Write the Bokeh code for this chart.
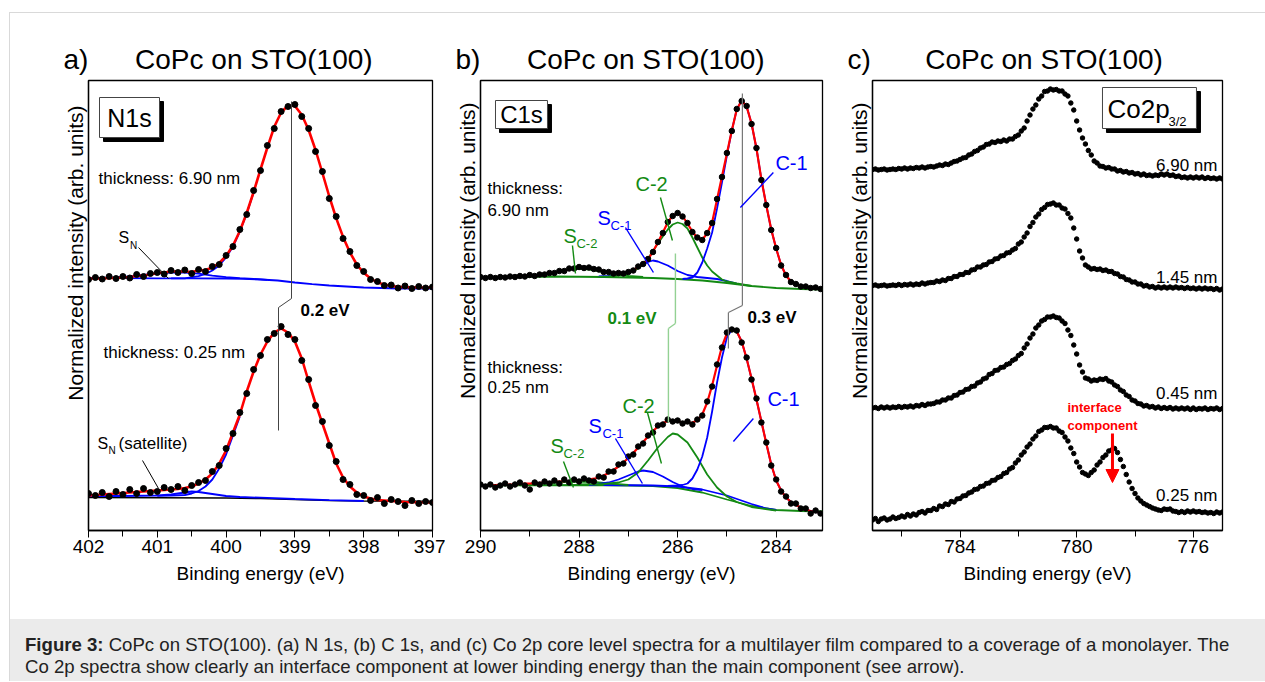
import numpy as np
from bokeh.plotting import figure
from bokeh.models import (Range1d, FixedTicker, Label, Arrow, NormalHead,
                          BoxAnnotation, Div, Spacer, Title)
from bokeh.layouts import row, column
from bokeh.embed import file_html
from bokeh.resources import INLINE

FONT = "Liberation Sans"
RED, BLUE, GREEN = "#ff0000", "#0000ff", "#138a13"
NB = "\u00a0"

# ---------------- panel a : N 1s ----------------
E_a = np.linspace(402.0, 397.0, 51)
a_top_data = [251, 253, 251.5, 254, 252, 254, 252.5, 256, 254, 257,
              258, 256.5, 260, 258, 260.5, 257, 261, 259, 264, 266,
              275, 284, 301, 316, 340, 360, 385, 402, 419, 424,
              426, 414, 402, 379, 359, 332, 314, 292, 279, 265,
              259, 251, 249, 245, 245.5, 242.5, 244.5, 242, 244, 242.5, 243.5]
a_top_fit = [252, 252, 252, 252.5, 252.5, 253, 253.5, 254.5, 255, 256,
             257.5, 258, 259, 259, 259, 258.5, 260, 260.5, 263, 267.5,
             274.5, 285, 299.5, 317.5, 338.5, 361, 383, 403.7, 418, 425,
             424.5, 415.7, 400.5, 380.5, 357.5, 334, 312.4, 293.6, 278, 266,
             257.7, 252, 248, 246, 244.5, 243.8, 243.4, 243.2, 243, 243, 243]
a_top_bg_E = [402, 401.5, 401, 400.5, 400, 399.75, 399.5, 399.25, 399, 398.75, 398.5, 398.25, 398, 397.5, 397]
a_top_bg = [252.5, 252.3, 252.2, 252.1, 252, 251.6, 251, 250, 248, 246.3, 245, 244, 243, 242, 241.8]
a_top_sat_E = [402, 401.8, 401.6, 401.4, 401.2, 401.0, 400.8, 400.7, 400.6, 400.4, 400.2, 400.0, 399.8, 399.6, 399.4]
a_top_sat = [252.5, 252.6, 253, 254, 255.5, 257, 258, 258.2, 258, 256.8, 254.8, 253.3, 252.4, 251.6, 250.6]
a_top_main_E = [400.8, 400.6, 400.4, 400.3, 400.2, 400.1, 400.0, 399.9, 399.8, 399.7, 399.6]
a_top_main = [252.1, 252.2, 254.4, 256.5, 260, 265, 273, 284, 299, 317, 338]

a_bot_data = [37, 35, 38, 34, 39, 36, 41, 37, 42, 38,
              39, 43, 41, 44, 40, 45, 48, 50, 59, 65,
              82, 97, 118, 137, 161, 175, 191, 197, 204, 196,
              191, 170, 151, 125, 109, 85, 69, 51, 46, 36,
              35, 30, 33, 27, 31, 29, 25, 30, 27, 29, 28]
a_bot_fit = [35, 35.5, 36, 36.5, 37, 37.5, 38, 38.5, 39, 39.5,
             40, 40.5, 41, 41.5, 42.5, 44, 47, 51, 57, 67,
             80, 98, 116, 139, 159, 176, 189, 198, 202, 198,
             189, 172, 149, 127, 107, 87, 67, 53, 44, 38,
             34, 32, 30.5, 30, 29.5, 29, 28.5, 28.3, 28.2, 28, 28]
a_bot_base_E = [402, 400, 399.5, 399, 398.5, 398, 397]
a_bot_base = [33, 32.5, 32, 31, 30, 29.5, 29.3]
a_bot_sat_E = [402, 401.5, 401, 400.8, 400.6, 400.5, 400.4, 400.2, 400, 399.8, 399.5, 399, 398.5, 398]
a_bot_sat = [34.5, 34.5, 35, 36, 38, 39, 38.5, 36.5, 34.5, 33.5, 32.8, 31.5, 30.3, 29.5]
a_bot_main_E = [401.0, 400.8, 400.6, 400.5, 400.4, 400.3, 400.2, 400.1, 400.0, 399.9, 399.8]
a_bot_main = [34.6, 34.8, 35.5, 37, 39.5, 44, 51, 62, 76, 95, 114]

# ---------------- panel b : C 1s ----------------
E_b = np.linspace(290.0, 283.1, 70)
b_top_data = [253.5, 252.5, 253.5, 252.5, 253.5, 253, 254, 253.5, 254.5, 254,
              255.5, 254.5, 256, 256, 257.5, 257.5, 259.5, 259.5, 262, 262,
              263.5, 262.5, 263, 261.5, 261, 258.5, 258.5, 257, 257.5, 257,
              258.5, 260, 264, 266.5, 271.5, 278.5, 288.5, 297.5, 308.5, 314.5,
              317.5, 314, 307.5, 298.5, 293, 290.5, 297.5, 307.5, 331.5, 353.5,
              377.5, 399.5, 421.5, 429.5, 424.5, 406.5, 382.5, 350.5, 325.5, 300.5,
              282.5, 265, 255.5, 248.5, 246.5, 244, 244, 242.5, 243, 241.5]
b_top_fit = [253, 253, 253, 253, 253, 253.3, 253.6, 254, 254.2, 254.5,
             254.8, 255.2, 255.7, 256.3, 257, 258, 259, 260, 261.3, 262.5,
             263, 263, 262.7, 262, 260.5, 259, 258, 257.3, 257, 257.3,
             258.3, 260.5, 263.5, 267, 271, 279, 288, 298, 308, 315,
             317, 314.5, 307, 299, 292.5, 291, 297, 308, 331, 354,
             377, 400, 421, 430, 424, 407, 382, 351, 325, 301,
             282, 265.5, 255, 249, 246, 244.5, 243.5, 243, 242.5, 242]
b_top_base_E = [290, 288.5, 287.5, 286.5, 286, 285.5, 285, 284.5, 284, 283.5, 283.06]
b_top_base = [253, 254, 253.5, 252.5, 251.5, 250, 247.5, 244.5, 242.5, 241.5, 241]
b_top_sc2_E = [289.2, 289.0, 288.6, 288.3, 288.0, 287.7, 287.4, 287.0, 286.7]
b_top_sc2 = [254, 254.5, 257, 260.5, 262, 260.5, 257, 254.5, 253.5]
b_top_sc1_E = [287.6, 287.4, 287.2, 287.0, 286.8, 286.6, 286.5, 286.4, 286.2, 286.0, 285.8, 285.6, 285.4, 285.2, 285.0, 284.8]
b_top_sc1 = [254, 254.5, 256, 258.5, 263, 268.5, 270, 269, 265, 259.5, 255.5, 253.5, 252.5, 251.5, 249.5, 247]
b_top_c2_E = [287.6, 287.4, 287.2, 287.0, 286.8, 286.6, 286.4, 286.3, 286.2, 286.1, 286.0, 285.9,
              285.8, 285.7, 285.6, 285.5, 285.4, 285.3, 285.2, 285.1, 285.0, 284.8, 284.5]
b_top_c2 = [253.5, 254, 255, 257, 262, 272, 287, 294, 301, 306, 308, 306.5,
            302, 293, 283, 273, 265, 259, 255, 251, 249, 247, 244.5]
b_top_c1_E = [285.9, 285.8, 285.7, 285.6, 285.5, 285.4, 285.3, 285.2, 285.1, 285.0, 284.9, 284.8, 284.7,
              284.6, 284.5, 284.4, 284.3, 284.2, 284.1, 284.0, 283.9, 283.8, 283.7, 283.6, 283.5, 283.4,
              283.3, 283.2, 283.1]
b_top_c1 = [251.5, 252, 253, 258, 268, 282, 298, 322, 348, 375, 400, 421, 430,
            424, 407, 382, 351, 325, 301, 282, 265.5, 255, 249, 246, 244.5, 243.5,
            243, 242.5, 242]

b_bot_data = [46, 44, 46, 43, 45, 47, 44, 46, 48, 45,
              41, 48, 46, 49, 47, 50, 47, 51, 48, 51,
              49, 52, 50, 49, 54, 53, 59, 59, 66, 67,
              74, 76, 84, 87, 95, 98, 105, 106, 111, 109,
              110, 107, 109, 106, 111, 115, 129, 144, 166, 183,
              198, 201, 200, 188, 173, 151, 132, 108, 88, 65,
              51, 39, 34, 27, 27, 22, 22, 17, 20, 17]
b_bot_fit = [45, 45, 45.2, 45.4, 45.6, 45.8, 46, 46.2, 46.5, 46.8,
             47, 47.3, 47.6, 48, 48.3, 48.6, 49, 49.3, 49.6, 50,
             50.3, 50.6, 51, 51.8, 53, 55, 57.5, 60.5, 64, 68,
             72.5, 77.5, 83, 88.5, 94, 99.5, 104, 107.5, 109.5, 110,
             109, 108, 107.5, 108, 110, 116, 128, 145, 165, 184,
             197, 202, 199, 189, 172, 152, 131, 109, 87, 66,
             50, 40, 33, 28.5, 25.5, 23, 21, 19.5, 18.5, 18]
b_bot_base_E = [290, 288, 287, 286.5, 286, 285.5, 285, 284.5, 284, 283.5, 283.06]
b_bot_base = [45, 45.5, 45, 44.5, 42.5, 38, 31, 24.5, 20.5, 19.5, 19]
b_bot_bgb_E = [287.5, 286.5, 286, 285.5, 285, 284.5, 284.2, 284]
b_bot_bgb = [45.5, 45, 44, 41, 35, 26.5, 22, 20.5]
b_bot_sc2_E = [289.2, 288.9, 288.6, 288.3, 288.0, 287.7, 287.4, 287.0]
b_bot_sc2 = [45.2, 46, 47.2, 48.5, 49, 48.5, 47.2, 45.5]
b_bot_sc1_E = [287.8, 287.6, 287.4, 287.2, 287.0, 286.8, 286.7, 286.5, 286.3, 286.1, 285.9, 285.7, 285.5]
b_bot_sc1 = [45.5, 46.5, 48, 51, 55, 59, 60, 58.5, 54, 48.5, 44, 41.5, 40.5]
b_bot_c2_E = [288.0, 287.5, 287.2, 287.0, 286.8, 286.6, 286.4, 286.2, 286.1, 286.0, 285.8, 285.6,
              285.4, 285.2, 285.0, 284.8, 284.5, 284.0]
b_bot_c2 = [46, 46.5, 48, 51, 58, 70, 83, 93.5, 97, 96, 88, 73, 56, 43, 34, 28.5, 23.5, 20]
b_bot_c1_E = [286.2, 286.0, 285.9, 285.8, 285.7, 285.6, 285.5, 285.4, 285.3, 285.2, 285.1, 285.0,
              284.9, 284.8, 284.7, 284.6, 284.5, 284.4, 284.3, 284.2, 284.1, 284.0, 283.9, 283.8,
              283.7, 283.6, 283.5, 283.4, 283.3, 283.2, 283.1]
b_bot_c1 = [44.5, 45, 45.5, 47, 52, 61, 74, 93, 119, 148, 173, 193,
            201, 199, 189, 172, 152, 131, 109, 87, 66, 50, 40, 33,
            28.5, 25.5, 23, 21, 19.5, 18.5, 18]

# ---------------- panel c : Co 2p3/2 ----------------
E_c = np.linspace(787.0, 775.0, 121)
c_690 = [361, 361.5, 360.5, 361, 361.5, 360.5, 361, 361.5, 361, 362, 361.5, 362.5, 361.5, 362.5, 362, 363, 362.5, 363.5, 362.5, 363.5, 364,
         363.5, 364.5, 365.5, 365, 366.5, 366, 367.5, 369, 369.5, 371, 372.5, 373, 375.5, 376.5, 379, 380, 382.5, 383.5, 386, 386.5,
         388.5, 388, 389.5, 389, 390.5, 389.5, 391.5, 391.5, 394, 395.5, 399.5, 402.5, 409.5, 415.5, 421.5, 425.5, 431.5, 434.5, 439, 439.5,
         441.5, 440.5, 441, 439.5, 439.5, 436.5, 434.5, 427.5, 420.5, 409.5, 400.5, 392.5, 386.5, 380, 375.5, 369.5, 367.5, 364.5, 364, 362.5,
         363, 361.5, 361.5, 359.5, 360, 358.5, 359, 357.5, 358, 356.5, 357, 355.5, 356.5, 355, 355.5, 354.5, 355.5, 355, 356.5, 355.5,
         356.5, 355, 355.5, 354, 354.5, 353, 353.5, 352.5, 353.5, 352.5, 353.5, 352.5, 353.5, 352, 353, 352, 352.5, 351.5, 352.5, 351.5]
c_145 = [245, 245.5, 244.5, 245, 245.5, 244.5, 245, 245.5, 245, 246, 245, 246, 245.5, 246.5, 245.5, 246.5, 246, 247.5, 246.5, 247.5, 248,
         248, 249.5, 249, 250.5, 250, 252, 252, 254, 254, 256, 256, 258, 258, 260.5, 261, 263.5, 263.5, 265.5, 266, 268.5,
         269, 271.5, 272, 274.5, 275, 277.5, 278, 280.5, 282, 286.5, 288.5, 293.5, 297.5, 304, 308, 313.5, 316.5, 321, 323, 326,
         326.5, 327.5, 325.5, 325.5, 322.5, 321.5, 317, 312.5, 302.5, 291.5, 279.5, 272.5, 265.5, 263.5, 261.5, 262, 261, 261.5, 260, 260.5,
         259, 259, 257, 256.5, 254, 253.5, 251, 250.5, 248.5, 248.5, 246.5, 246.5, 244.5, 245, 243.5, 244, 242.5, 243.5, 242.5, 243.5,
         242.5, 243.5, 242.5, 243.5, 242.5, 243, 242, 243, 242, 242.5, 241.5, 242.5, 241.5, 242.5, 241.5, 242, 241, 242, 240.5, 241.5]
c_045 = [122.5, 123, 122, 123.5, 122.5, 123.5, 122.5, 123.5, 123, 124, 123, 124, 123.5, 124.5, 123.5, 125, 124.5, 126, 125, 126.5, 126.5,
         127, 128.5, 128.5, 130.5, 130.5, 132.5, 132.5, 135, 135.5, 138, 138.5, 141, 141.5, 144, 144.5, 147.5, 148.5, 151.5, 152.5, 156,
         157, 160, 160.5, 163, 163.5, 166, 167, 170, 171.5, 175, 177, 182.5, 186.5, 192.5, 196.5, 202.5, 205.5, 209.5, 211, 213.5,
         213.5, 214.5, 213, 212.5, 209.5, 207, 200.5, 195, 185.5, 176.5, 165.5, 158.5, 152.5, 151.5, 149.5, 150.5, 150, 151.5, 151, 152,
         149.5, 148.5, 145.5, 144, 140.5, 139, 135.5, 134, 130.5, 129.5, 127, 126.5, 124.5, 125, 123.5, 124, 122.5, 123.5, 122, 123,
         122, 123, 121.5, 122.5, 121.5, 122.5, 121.5, 122.5, 121, 122.5, 121, 122, 121.5, 122.5, 121, 122, 121.5, 122.5, 121, 122]
c_025 = [10.5, 12, 9, 11.5, 12.5, 10.5, 11.5, 13.5, 12, 13, 14.5, 13.5, 16, 14.5, 16.5, 15.5, 18, 19, 17.5, 20, 20,
         22, 21, 24.5, 24, 26.5, 26, 29, 28.5, 31.5, 32, 34.5, 35, 37.5, 38.5, 41, 41.5, 44, 44.5, 47, 47.5,
         50, 50.5, 53, 54, 57, 58, 61.5, 63, 67.5, 70.5, 75.5, 78.5, 83.5, 86.5, 91.5, 94.5, 99, 100.5, 103, 103,
         104, 102.5, 102.5, 99.5, 98, 93.5, 89.5, 82.5, 77, 68.5, 63.5, 58, 56.5, 55, 58, 60.5, 65.5, 68.5, 73, 75.5,
         79.5, 80.5, 82, 78, 71, 64, 56, 48.5, 42, 37, 32.5, 29.5, 27, 25.5, 24, 22.5, 21.5, 20.5, 20, 21.5,
         21, 21.5, 19.5, 19, 18, 19, 18, 19.5, 18.5, 19.5, 18.5, 19, 18, 18.5, 17.5, 18, 17, 18.5, 17.5, 18.5]

for arr in (a_top_data, a_top_fit, a_bot_data, a_bot_fit):
    assert len(arr) == len(E_a), len(arr)
for arr in (b_top_data, b_top_fit, b_bot_data, b_bot_fit):
    assert len(arr) == len(E_b), len(arr)
for arr in (c_690, c_145, c_045, c_025):
    assert len(arr) == len(E_c), len(arr)


# ---------------- helpers ----------------
def panel(width, left, right, xr, major, minor, ttl, ylab, yoff):
    p = figure(width=width, height=606, x_range=Range1d(xr[0], xr[1]), y_range=Range1d(0, 450),
               output_backend="svg", toolbar_location=None,
               min_border_left=left, min_border_right=right, min_border_top=67, min_border_bottom=89,
               background_fill_color="white", border_fill_color="white")
    p.xgrid.visible = False
    p.ygrid.visible = False
    p.outline_line_color = "black"
    p.outline_line_width = 1.3
    p.outline_line_alpha = 1.0
    # panel title
    p.title.text = ttl
    p.title.align = "left"
    p.title.offset = -25
    p.title.text_font = FONT
    p.title.text_font_size = "28px"
    p.title.text_font_style = "normal"
    p.title.text_color = "black"
    p.title.standoff = 12
    # y label as a side title (allows placing it off-centre like the original)
    p.add_layout(Title(text=ylab, align="right", offset=yoff, text_font=FONT,
                       text_font_size="21px", text_font_style="normal", text_color="black",
                       standoff=4), "left")
    xa = p.xaxis[0]
    xa.ticker = FixedTicker(ticks=major, minor_ticks=minor)
    xa.axis_label = "Binding energy (eV)"
    xa.axis_label_text_font = FONT
    xa.axis_label_text_font_size = "19px"
    xa.axis_label_text_font_style = "normal"
    xa.axis_label_text_color = "black"
    xa.axis_label_standoff = 7
    xa.major_label_text_font = FONT
    xa.major_label_text_font_size = "19px"
    xa.major_label_text_color = "black"
    xa.major_label_standoff = 2
    xa.major_tick_in = 0
    xa.major_tick_out = 7
    xa.minor_tick_in = 0
    xa.minor_tick_out = 6
    xa.major_tick_line_color = "black"
    xa.minor_tick_line_color = "black"
    xa.axis_line_color = "black"
    xa.axis_line_width = 1.3
    ya = p.yaxis[0]
    ya.ticker = FixedTicker(ticks=[])
    ya.major_tick_line_color = None
    ya.minor_tick_line_color = None
    ya.major_label_text_font_size = "0px"
    ya.major_label_standoff = 0
    ya.major_tick_out = 0
    ya.axis_line_color = "black"
    ya.axis_line_width = 1.3
    return p


def conv(x0, e0, s):
    return lambda px: e0 - (px - x0) / s


def ey(py):
    return 530 - py


def txt(p, cx, px, py, text, size, color="black", bold=False, align="left", angle=0.0):
    p.add_layout(Label(x=cx(px), y=ey(py), text=text, text_font=FONT, text_font_size=f"{size}px",
                       text_color=color, text_font_style="bold" if bold else "normal",
                       text_align=align, text_baseline="middle", angle=angle))


def seg(p, cx, pts, color, width=1.2):
    for (x0, y0), (x1, y1) in zip(pts[:-1], pts[1:]):
        p.add_layout(Arrow(end=None, x_start=cx(x0), y_start=ey(y0), x_end=cx(x1), y_end=ey(y1),
                           line_color=color, line_width=width))


def box(p, cx, x0, y0, x1, y1, sh=4):
    p.add_layout(BoxAnnotation(left=cx(x0 + sh), right=cx(x1 + sh), top=ey(y0 + sh), bottom=ey(y1 + sh),
                               fill_color="black", fill_alpha=1, line_color="black", line_alpha=1))
    p.add_layout(BoxAnnotation(left=cx(x0), right=cx(x1), top=ey(y0), bottom=ey(y1),
                               fill_color="white", fill_alpha=1, line_color="#444444",
                               line_width=1, line_alpha=1))


# ---------------- panel a ----------------
pa = panel(435, 78, 13, (402, 397), [397, 398, 399, 400, 401, 402],
           [397.5, 398.5, 399.5, 400.5, 401.5],
           "a)" + NB * 6 + "CoPc on STO(100)", "Normalized intensity (arb. units)", 25)
ca = conv(88, 402.0, 68.8)
pa.line(a_top_bg_E, a_top_bg, color=BLUE, line_width=1.8)
pa.line(a_top_sat_E, a_top_sat, color=BLUE, line_width=1.8)
pa.line(a_top_main_E, a_top_main, color=BLUE, line_width=1.8)
pa.line(E_a, a_top_fit, color=RED, line_width=2.6)
pa.scatter(E_a, a_top_data, size=6, color="black")
pa.line(a_bot_base_E, a_bot_base, color="black", line_width=1.5)
pa.line(a_bot_sat_E, a_bot_sat, color=BLUE, line_width=1.8)
pa.line(a_bot_main_E, a_bot_main, color=BLUE, line_width=1.8)
pa.line(E_a, a_bot_fit, color=RED, line_width=2.6)
pa.scatter(E_a, a_bot_data, size=6, color="black")

box(pa, ca, 99, 97, 159, 137)
txt(pa, ca, 129, 117, "N1s", 25, align="center")
txt(pa, ca, 98, 178, "thickness: 6.90 nm", 17)
txt(pa, ca, 103, 352, "thickness: 0.25 nm", 17)
txt(pa, ca, 300, 310, "0.2 eV", 17, bold=True)
txt(pa, ca, 118, 237, "S", 16)
txt(pa, ca, 129.5, 245, "N", 10)
seg(pa, ca, [(138, 247), (168, 278)], "black", 1)
txt(pa, ca, 97, 443, "S", 16)
txt(pa, ca, 108, 450, "N", 10)
txt(pa, ca, 118, 443, "(satellite)", 17)
seg(pa, ca, [(142, 460), (158, 488)], "black", 1)
seg(pa, ca, [(291, 101), (291, 298), (278, 307), (278, 430)], "#444444", 1)

# ---------------- panel b ----------------
pb = panel(393, 35, 16, (290, 283.06), [284, 286, 288, 290], [283, 285, 287, 289],
           "b)" + NB * 6 + "CoPc on STO(100)", "Normalized Intensity (arb. units)", 22)
cb = conv(480, 290.0, 49.3)
pb.line(b_top_base_E, b_top_base, color=GREEN, line_width=1.8)
pb.line(b_top_sc2_E, b_top_sc2, color=GREEN, line_width=1.8)
pb.line(b_top_sc1_E, b_top_sc1, color=BLUE, line_width=1.8)
pb.line(b_top_c2_E, b_top_c2, color=GREEN, line_width=1.8)
pb.line(b_top_c1_E, b_top_c1, color=BLUE, line_width=1.8)
pb.line(E_b, b_top_fit, color=RED, line_width=2.2)
pb.scatter(E_b, b_top_data, size=5.5, color="black")
pb.line(b_bot_base_E, b_bot_base, color=GREEN, line_width=1.8)
pb.line(b_bot_bgb_E, b_bot_bgb, color=BLUE, line_width=1.8)
pb.line(b_bot_sc2_E, b_bot_sc2, color=GREEN, line_width=1.8)
pb.line(b_bot_sc1_E, b_bot_sc1, color=BLUE, line_width=1.8)
pb.line(b_bot_c2_E, b_bot_c2, color=GREEN, line_width=1.8)
pb.line(b_bot_c1_E, b_bot_c1, color=BLUE, line_width=1.8)
pb.line(E_b, b_bot_fit, color=RED, line_width=2.2)
pb.scatter(E_b, b_bot_data, size=5.5, color="black")

box(pb, cb, 495, 100, 547, 128)
txt(pb, cb, 521, 114, "C1s", 24, align="center")
seg(pb, cb, [(742, 93), (742, 305), (728, 312), (728, 348)], "#777777", 1.2)
seg(pb, cb, [(675, 253), (675, 323), (668, 328), (668, 422)], "#93d193", 1.4)
txt(pb, cb, 775, 162, "C-1", 20, BLUE)
seg(pb, cb, [(773, 172), (740, 207)], BLUE, 1.4)
txt(pb, cb, 635, 183, "C-2", 20, GREEN)
seg(pb, cb, [(660, 197), (672, 240)], GREEN, 1.4)
txt(pb, cb, 597, 217, "S", 20, BLUE)
txt(pb, cb, 610, 225, "C-1", 13, BLUE)
seg(pb, cb, [(625, 227), (653, 272)], BLUE, 1.4)
txt(pb, cb, 563, 235, "S", 20, GREEN)
txt(pb, cb, 576, 243, "C-2", 13, GREEN)
seg(pb, cb, [(572, 245), (575, 273)], GREEN, 1.4)
txt(pb, cb, 487, 188, "thickness:", 17)
txt(pb, cb, 487, 210, "6.90 nm", 17)
txt(pb, cb, 767, 398, "C-1", 20, BLUE)
seg(pb, cb, [(753, 418), (733, 441)], BLUE, 1.4)
txt(pb, cb, 622, 405, "C-2", 20, GREEN)
seg(pb, cb, [(647, 412), (661, 463)], GREEN, 1.4)
txt(pb, cb, 588, 425, "S", 20, BLUE)
txt(pb, cb, 602, 433, "C-1", 13, BLUE)
seg(pb, cb, [(615, 438), (642, 483)], BLUE, 1.4)
txt(pb, cb, 550, 445, "S", 20, GREEN)
txt(pb, cb, 563, 453, "C-2", 13, GREEN)
seg(pb, cb, [(563, 461), (573, 487)], GREEN, 1.4)
txt(pb, cb, 487, 367, "thickness:", 17)
txt(pb, cb, 487, 387, "0.25 nm", 17)
txt(pb, cb, 607, 318, "0.1 eV", 17, GREEN, bold=True)
txt(pb, cb, 747, 317, "0.3 eV", 17, bold=True)

# ---------------- panel c ----------------
pc = panel(427, 34, 43, (787, 775), [776, 780, 784], [778, 782, 786],
           "c)" + NB * 7 + "CoPc on STO(100)", "Normalized Intensity (arb. units)", 22)
cc = conv(872, 787.0, 29.17)
for arr in (c_690, c_145, c_045, c_025):
    pc.scatter(E_c, arr, size=4.5, color="black")

box(pc, cc, 1102, 87, 1196, 128)
txt(pc, cc, 1107, 108, "Co2p", 26)
txt(pc, cc, 1168, 121, "3/2", 13)
txt(pc, cc, 1217, 165, "6.90 nm", 17, align="right")
txt(pc, cc, 1217, 277, "1.45 nm", 17, align="right")
txt(pc, cc, 1217, 393, "0.45 nm", 17, align="right")
txt(pc, cc, 1217, 495, "0.25 nm", 17, align="right")
txt(pc, cc, 1067, 407, "interface", 13, RED, bold=True)
txt(pc, cc, 1067, 425, "component", 13, RED, bold=True)
pc.add_layout(Arrow(end=NormalHead(size=13, fill_color=RED, line_color=RED),
                    x_start=cc(1112), y_start=ey(433), x_end=cc(1112), y_end=ey(482),
                    line_color=RED, line_width=3))

# ---------------- page layout ----------------
caption_html = (
    '<div style="padding:15px 0 0 15px; font-family:\'Liberation Sans\', Arial, sans-serif; '
    'font-size:18.6px; line-height:22px; color:#222; white-space:nowrap;">'
    '<b>Figure 3:</b> CoPc on STO(100). (a) N 1s, (b) C 1s, and (c) Co 2p core level spectra for a '
    'multilayer film compared to a coverage of a monolayer. The<br>'
    'Co 2p spectra show clearly an interface component at lower binding energy than the main '
    'component (see arrow).</div>')
caption = Div(text=caption_html, width=1255, height=62, margin=0,
              styles={"background-color": "#ebebeb"})
hline = Div(text="", width=1256, height=1, margin=0, styles={"background-color": "#d9d9d9"})
vline = Div(text="", width=1, height=668, margin=0, styles={"background-color": "#d9d9d9"})

inner = column(row(pa, pb, pc), caption)
root = column(Spacer(width=1265, height=12),
              row(Spacer(width=9, height=1), hline),
              row(Spacer(width=9, height=668), vline, inner))

open("out.html", "w").write(file_html(root, INLINE))
